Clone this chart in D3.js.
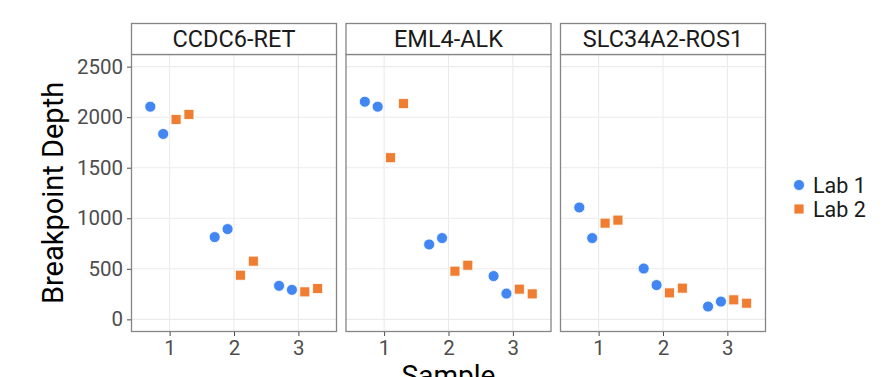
<!DOCTYPE html>
<html>
<head>
<meta charset="utf-8">
<script src="https://cdn.jsdelivr.net/npm/d3@7"></script>
<style>
  body { margin: 0; background: #fff; }
  svg { font-family: Roboto, "Noto Sans", sans-serif; }
</style>
</head>
<body>
<svg id="chart" width="888" height="377"></svg>
<script>
const panels = ['CCDC6-RET', 'EML4-ALK', 'SLC34A2-ROS1'];
const samples = [1, 2, 3];
const yTicks = [0, 500, 1000, 1500, 2000, 2500];
const labs = ['Lab 1', 'Lab 2'];
// two replicates per sample, per panel: [s1a, s1b, s2a, s2b, s3a, s3b]
const lab1Depth = [
  [2104, 1834, 814, 893, 332, 292],
  [2153, 2104, 741, 804, 428, 255],
  [1107, 804, 503, 339, 127, 176]
];
const lab2Depth = [
  [1978, 2028, 437, 576, 272, 305],
  [1599, 2134, 477, 536, 299, 252],
  [952, 982, 262, 309, 193, 160]
];
const colors = { 'Lab 1': '#4286f4', 'Lab 2': '#ef7d32' };
const dodge = { 'Lab 1': [-0.3, -0.1], 'Lab 2': [0.1, 0.3] };

const svg = d3.select('#chart');
const plotTop = 23, stripH = 31, plotBottom = 332;

const panelX = d3.scaleBand().domain(panels).range([131, 766]).paddingInner(0.0396);
const y = d3.scaleLinear().domain([-125, 2625]).range([plotBottom, plotTop + stripH]);

const points = [];
panels.forEach((p, pi) => {
  [lab1Depth, lab2Depth].forEach((arr, li) => {
    const lab = labs[li];
    arr[pi].forEach((v, k) => {
      const s = samples[Math.floor(k / 2)];
      points.push({ panel: p, lab, x: s + dodge[lab][k % 2], value: v });
    });
  });
});

panels.forEach((p, pi) => {
  const x0 = panelX(p), w = panelX.bandwidth();
  const x = d3.scaleLinear().domain([0.4, 3.6]).range([x0, x0 + w]);
  const g = svg.append('g');

  // grid
  g.selectAll('.hg').data(yTicks).enter().append('line')
    .attr('x1', x0).attr('x2', x0 + w)
    .attr('y1', d => y(d)).attr('y2', d => y(d))
    .attr('stroke', '#ebebeb').attr('stroke-width', 1.1);
  g.selectAll('.vg').data(samples).enter().append('line')
    .attr('x1', d => x(d)).attr('x2', d => x(d))
    .attr('y1', plotTop + stripH).attr('y2', plotBottom)
    .attr('stroke', '#ebebeb').attr('stroke-width', 1.1);

  // points
  const pts = points.filter(d => d.panel === p);
  g.selectAll('.pt1').data(pts.filter(d => d.lab === 'Lab 1')).enter().append('circle')
    .attr('cx', d => x(d.x)).attr('cy', d => y(d.value)).attr('r', 5.5)
    .attr('fill', colors['Lab 1']).attr('stroke', '#fff').attr('stroke-width', 0.8);
  g.selectAll('.pt2').data(pts.filter(d => d.lab === 'Lab 2')).enter().append('rect')
    .attr('x', d => x(d.x) - 5).attr('y', d => y(d.value) - 5)
    .attr('width', 10).attr('height', 10)
    .attr('fill', colors['Lab 2']).attr('stroke', '#fff').attr('stroke-width', 0.8);

  // panel border
  g.append('rect').attr('x', x0 + 0.5).attr('y', plotTop + stripH + 0.5)
    .attr('width', w - 1).attr('height', plotBottom - plotTop - stripH - 1)
    .attr('fill', 'none').attr('stroke', '#858585').attr('stroke-width', 1.3);

  // strip
  g.append('rect').attr('x', x0 + 0.5).attr('y', plotTop + 0.5)
    .attr('width', w - 1).attr('height', stripH)
    .attr('fill', '#fff').attr('stroke', '#858585').attr('stroke-width', 1.3);
  g.append('text').attr('x', x0 + w / 2).attr('y', plotTop + stripH / 2 + 8.5)
    .attr('text-anchor', 'middle').attr('font-size', 23.5).attr('fill', '#1a1a1a')
    .text(p);

  // x axis
  const xa = svg.append('g').attr('transform', `translate(0,${plotBottom})`)
    .call(d3.axisBottom(x).tickValues(samples).tickSize(4).tickPadding(4).tickFormat(d3.format('d')));
  xa.select('.domain').remove();
  xa.selectAll('line').attr('stroke', '#4d4d4d');
  xa.selectAll('text').attr('font-size', 20.5).attr('fill', '#4d4d4d').attr('font-family', 'Roboto');
});

// y axis
const ya = svg.append('g').attr('transform', `translate(${panelX(panels[0])},0)`)
  .call(d3.axisLeft(y).tickValues(yTicks).tickSize(4).tickPadding(4).tickFormat(d3.format('d')));
ya.select('.domain').remove();
ya.selectAll('line').attr('stroke', '#4d4d4d');
ya.selectAll('text').attr('font-size', 20.5).attr('fill', '#4d4d4d').attr('font-family', 'Roboto');

// axis titles
svg.append('text').attr('transform', `translate(63,${(plotTop + stripH + plotBottom) / 2}) rotate(-90)`)
  .attr('text-anchor', 'middle').attr('font-size', 29).attr('fill', '#000')
  .text('Breakpoint Depth');
svg.append('text').attr('x', 448.5).attr('y', 385)
  .attr('text-anchor', 'middle').attr('font-size', 28).attr('fill', '#000')
  .text('Sample');

// legend
const lg = svg.append('g');
labs.forEach((lab, i) => {
  const cy = 185 + i * 24;
  if (lab === 'Lab 1') {
    lg.append('circle').attr('cx', 799).attr('cy', cy).attr('r', 5.5)
      .attr('fill', colors[lab]).attr('stroke', '#fff').attr('stroke-width', 0.8);
  } else {
    lg.append('rect').attr('x', 794).attr('y', cy - 5).attr('width', 10).attr('height', 10)
      .attr('fill', colors[lab]).attr('stroke', '#fff').attr('stroke-width', 0.8);
  }
  lg.append('text').attr('x', 813).attr('y', cy + 8).attr('font-size', 21.5).attr('fill', '#1a1a1a')
    .text(lab);
});
</script>
</body>
</html>
